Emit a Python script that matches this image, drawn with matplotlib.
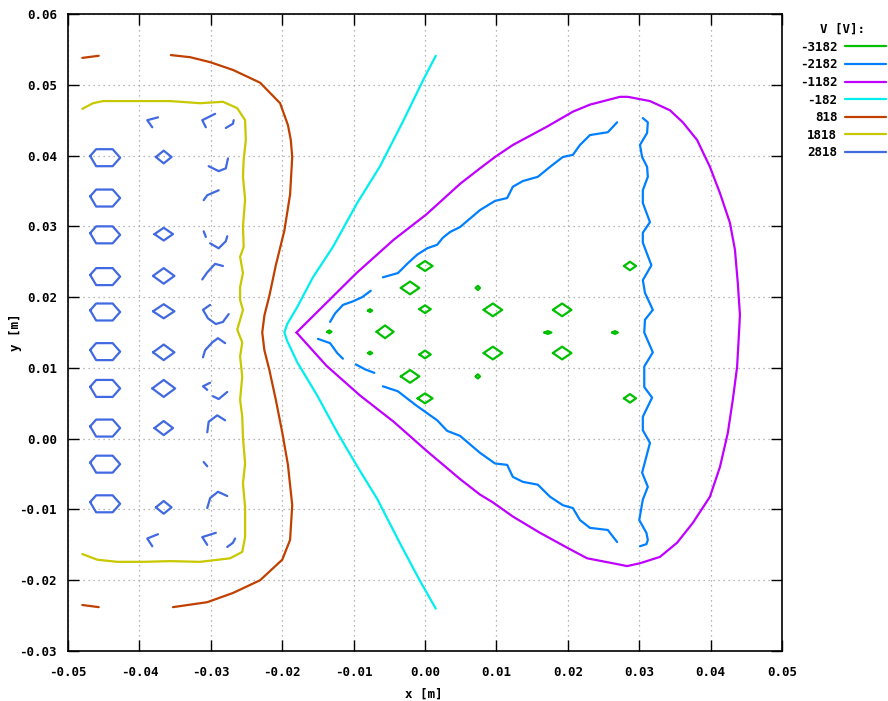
import matplotlib
matplotlib.use("Agg")
import matplotlib.pyplot as plt
from matplotlib.lines import Line2D
import numpy as np

plt.rcParams['font.family'] = ['DejaVu Sans Mono']
plt.rcParams['font.weight'] = 'bold'
plt.rcParams['font.size'] = 9
plt.rcParams['lines.solid_joinstyle'] = 'round'
plt.rcParams['lines.solid_capstyle'] = 'round'

# contour levels and gnuplot classic colours
levels = ['-3182', '-2182', '-1182', '-182', '818', '1818', '2818']
colors = ['#00c000', '#0080ff', '#c000ff', '#00eeee', '#c04000', '#c8c800', '#4169e1']

xticks = [-0.05, -0.04, -0.03, -0.02, -0.01, 0.0, 0.01, 0.02, 0.03, 0.04, 0.05]
xlabels = ['-0.05', '-0.04', '-0.03', '-0.02', '-0.01', '0.00', '0.01', '0.02', '0.03', '0.04', '0.05']
yticks = [-0.03, -0.02, -0.01, 0.0, 0.01, 0.02, 0.03, 0.04, 0.05, 0.06]
ylabels = ['-0.03', '-0.02', '-0.01', '0.00', '0.01', '0.02', '0.03', '0.04', '0.05', '0.06']

# ---- V = 818 ----
v818_x = [-0.0356, -0.0329, -0.0301, -0.0269, -0.0231, -0.0203, -0.0192, -0.0188, -0.0186, -0.0189,
          -0.0197, -0.0209, -0.0218, -0.0225, -0.0228, -0.0225, -0.0218, -0.0209, -0.0200, -0.0192,
          -0.0186, -0.0189, -0.0200, -0.0231, -0.0269, -0.0305, -0.0353]
v818_y = [0.0542, 0.0539, 0.0532, 0.0521, 0.0503, 0.0474, 0.0443, 0.0422, 0.0398, 0.0345,
          0.0294, 0.0245, 0.0202, 0.0174, 0.0150, 0.0125, 0.0097, 0.0055, 0.0009, -0.0037,
          -0.0094, -0.0143, -0.0171, -0.0200, -0.0218, -0.0231, -0.0238]
v818_top_x = [-0.0480, -0.0457]
v818_top_y = [0.0538, 0.0541]
v818_bot_x = [-0.0480, -0.0457]
v818_bot_y = [-0.0235, -0.0238]

# ---- V = 1818 ----
v1818_x = [-0.0480, -0.0465, -0.0451, -0.0399, -0.0357, -0.0315, -0.0283, -0.0263, -0.0252, -0.0251,
           -0.0254, -0.0255, -0.0252, -0.0255, -0.0254, -0.0259, -0.0255, -0.0259, -0.0259, -0.0255,
           -0.0263, -0.0256, -0.0259, -0.0256, -0.0259, -0.0256, -0.0255, -0.0252, -0.0255, -0.0252,
           -0.0252, -0.0256, -0.0273, -0.0315, -0.0357, -0.0395, -0.0431, -0.0459, -0.0480]
v1818_y = [0.0466, 0.0474, 0.0477, 0.0477, 0.0477, 0.0474, 0.0476, 0.0467, 0.0450, 0.0422,
           0.0394, 0.0370, 0.0338, 0.0300, 0.0271, 0.0257, 0.0234, 0.0214, 0.0196, 0.0182,
           0.0154, 0.0136, 0.0116, 0.0088, 0.0055, 0.0031, 0.0002, -0.0035, -0.0063, -0.0097,
           -0.0139, -0.0160, -0.0169, -0.0174, -0.0173, -0.0174, -0.0174, -0.0171, -0.0163]

# ---- V = -182 ----
vm182_x = [0.0015, -0.0003, -0.0031, -0.0063, -0.0095, -0.0129, -0.0157, -0.0179, -0.0193, -0.0197,
           -0.0193, -0.0179, -0.0151, -0.0123, -0.0095, -0.0067, -0.0035, -0.0007, 0.0015]
vm182_y = [0.0541, 0.0506, 0.0448, 0.0385, 0.0333, 0.0271, 0.0228, 0.0186, 0.0162, 0.0150,
           0.0138, 0.0108, 0.0061, 0.0009, -0.0039, -0.0085, -0.0148, -0.0201, -0.0240]

# ---- V = -1182 ----
vm1182_x = [-0.0180, -0.0138, -0.0096, -0.0044, 0.0002, 0.0049, 0.0077, 0.0098, 0.0123, 0.0171,
            0.0207, 0.0231, 0.0273, 0.0284, 0.0315, 0.0343, 0.0361, 0.0381, 0.0399, 0.0413,
            0.0427, 0.0434, 0.0438, 0.0441, 0.0440, 0.0437, 0.0431, 0.0424, 0.0413, 0.0399,
            0.0375, 0.0353, 0.0329, 0.0301, 0.0283, 0.0263, 0.0227, 0.0199, 0.0161, 0.0123,
            0.0095, 0.0077, 0.0049, 0.0002, -0.0044, -0.0091, -0.0138, -0.0180]
vm1182_y = [0.0150, 0.0192, 0.0234, 0.0281, 0.0317, 0.0360, 0.0382, 0.0398, 0.0415, 0.0441,
            0.0462, 0.0472, 0.0483, 0.0483, 0.0477, 0.0464, 0.0447, 0.0422, 0.0384, 0.0347,
            0.0305, 0.0267, 0.0220, 0.0175, 0.0155, 0.0101, 0.0055, 0.0008, -0.0040, -0.0082,
            -0.0119, -0.0147, -0.0167, -0.0176, -0.0180, -0.0176, -0.0169, -0.0154, -0.0133, -0.0110,
            -0.0090, -0.0079, -0.0057, -0.0017, 0.0024, 0.0061, 0.0103, 0.0150]

# ---- V = -2182 ----
vm2182_up_x = [-0.0059, -0.0038, -0.0024, -0.0011, 0.0003, 0.0017, 0.0025, 0.0035, 0.0049, 0.0077,
               0.0098, 0.0115, 0.0123, 0.0137, 0.0158, 0.0175, 0.0193, 0.0207, 0.0217, 0.0231,
               0.0256, 0.0269]
vm2182_up_y = [0.0228, 0.0234, 0.0248, 0.0260, 0.0269, 0.0274, 0.0284, 0.0292, 0.0299, 0.0323,
               0.0336, 0.0340, 0.0356, 0.0364, 0.0370, 0.0384, 0.0398, 0.0401, 0.0415, 0.0429,
               0.0433, 0.0447]
vm2182_lo_x = [-0.0059, -0.0038, -0.0024, -0.0011, 0.0003, 0.0017, 0.0031, 0.0049, 0.0077, 0.0098,
               0.0115, 0.0123, 0.0137, 0.0158, 0.0175, 0.0193, 0.0207, 0.0217, 0.0231, 0.0256,
               0.0269]
vm2182_lo_y = [0.0074, 0.0067, 0.0056, 0.0046, 0.0036, 0.0026, 0.0011, 0.0004, -0.0020, -0.0035,
               -0.0037, -0.0054, -0.0061, -0.0065, -0.0082, -0.0094, -0.0098, -0.0115, -0.0126, -0.0129,
               -0.0146]
vm2182_right_x = [0.0305, 0.0312, 0.0311, 0.0301, 0.0304, 0.0311, 0.0312, 0.0305, 0.0305, 0.0315,
                  0.0305, 0.0305, 0.0317, 0.0305, 0.0308, 0.0319, 0.0308, 0.0307, 0.0319, 0.0307,
                  0.0307, 0.0318, 0.0305, 0.0305, 0.0315, 0.0304, 0.0312, 0.0305, 0.0300, 0.0310,
                  0.0312, 0.0310, 0.0301]
vm2182_right_y = [0.0453, 0.0447, 0.0432, 0.0415, 0.0398, 0.0384, 0.0370, 0.0351, 0.0333, 0.0306,
                  0.0291, 0.0277, 0.0245, 0.0224, 0.0206, 0.0182, 0.0168, 0.0150, 0.0122, 0.0102,
                  0.0073, 0.0058, 0.0031, 0.0012, -0.0006, -0.0048, -0.0068, -0.0086, -0.0115, -0.0133,
                  -0.0143, -0.0149, -0.0152]
vm2182_small = [
    ([-0.0133, -0.0126, -0.0115, -0.0101, -0.0088, -0.0076], [0.0165, 0.0177, 0.0189, 0.0194, 0.0200, 0.0209]),
    ([-0.0150, -0.0133, -0.0123, -0.0115], [0.0141, 0.0135, 0.0121, 0.0113]),
    ([-0.0097, -0.0084, -0.0071], [0.0105, 0.0098, 0.0093]),
]

# ---- V = -3182 : small islands (centre x, centre y, half width, half height) ----
green_x = [0.0000, -0.0021, 0.0074, -0.0077, 0.0000, 0.0095, 0.0192, 0.0287, -0.0134, -0.0056,
           0.0172, 0.0266, -0.0077, 0.0000, 0.0095, 0.0192, -0.0021, 0.0074, 0.0000, 0.0287]
green_y = [0.0244, 0.0213, 0.0213, 0.0181, 0.0183, 0.0182, 0.0182, 0.0244, 0.0151, 0.0151,
           0.0150, 0.0150, 0.0121, 0.0119, 0.0121, 0.0121, 0.0088, 0.0088, 0.0057, 0.0057]
green_w = [0.00105, 0.0013, 0.0003, 0.0003, 0.0008, 0.0013, 0.0013, 0.00085, 0.0003, 0.0012,
           0.0005, 0.0004, 0.0003, 0.0008, 0.0013, 0.0013, 0.0013, 0.0003, 0.00105, 0.00085]
green_h = [0.0007, 0.0009, 0.0003, 0.0002, 0.00055, 0.0009, 0.0009, 0.0006, 0.0002, 0.0009,
           0.0002, 0.0002, 0.0002, 0.00055, 0.0009, 0.0009, 0.0009, 0.0003, 0.0007, 0.0006]

# ---- V = 2818 : islands and broken arcs on the left ----
col1_x = -0.0448
col1_y = [0.0397, 0.0340, 0.0288, 0.0229, 0.0179, 0.0123, 0.0071, 0.0015, -0.0036, -0.0092]
col1_w, col1_h = 0.0021, 0.0012
col2_x = -0.0366
col2_y = [0.0398, 0.0289, 0.0230, 0.0180, 0.0122, 0.0071, 0.0015, -0.0097]
col2_w = [0.0011, 0.0013, 0.0015, 0.0015, 0.0015, 0.0016, 0.0013, 0.0011]
col2_h = [0.0009, 0.0009, 0.0011, 0.0010, 0.0011, 0.0012, 0.0010, 0.0009]
v2818_arcs = [
    ([-0.0374, -0.0389, -0.0382], [0.0454, 0.0450, 0.0440]),
    ([-0.0374, -0.0389, -0.0382], [-0.0135, -0.0141, -0.0152]),
    ([-0.0294, -0.0312, -0.0307], [0.0459, 0.0450, 0.0440]),
    ([-0.0279, -0.0269, -0.0268], [0.0439, 0.0445, 0.0450]),
    ([-0.0276, -0.0279, -0.0289, -0.0303], [0.0396, 0.0382, 0.0378, 0.0385]),
    ([-0.0289, -0.0305, -0.0310], [0.0351, 0.0344, 0.0337]),
    ([-0.0310, -0.0307], [0.0293, 0.0285]),
    ([-0.0301, -0.0289, -0.0279, -0.0277], [0.0276, 0.0269, 0.0279, 0.0286]),
    ([-0.0283, -0.0294, -0.0305, -0.0312], [0.0244, 0.0247, 0.0235, 0.0225]),
    ([-0.0301, -0.0311, -0.0304, -0.0293, -0.0283, -0.0275], [0.0189, 0.0182, 0.0170, 0.0162, 0.0165, 0.0176]),
    ([-0.0311, -0.0308, -0.0298, -0.0290, -0.0280], [0.0115, 0.0125, 0.0136, 0.0142, 0.0135]),
    ([-0.0301, -0.0311, -0.0305], [0.0079, 0.0074, 0.0069]),
    ([-0.0297, -0.0289, -0.0277], [0.0060, 0.0056, 0.0066]),
    ([-0.0305, -0.0303, -0.0291, -0.0280], [0.0009, 0.0024, 0.0033, 0.0026]),
    ([-0.0310, -0.0305], [-0.0033, -0.0039]),
    ([-0.0305, -0.0301, -0.0290, -0.0277], [-0.0098, -0.0084, -0.0075, -0.0081]),
    ([-0.0293, -0.0312, -0.0305], [-0.0133, -0.0139, -0.0150]),
    ([-0.0277, -0.0269, -0.0266], [-0.0153, -0.0147, -0.0141]),
]


def diamond(cx, cy, w, h):
    return [cx - w, cx, cx + w, cx, cx - w], [cy, cy + h, cy, cy - h, cy]


def hexagon(cx, cy, w, h):
    xs = [cx - w, cx - 0.6 * w, cx + 0.5 * w, cx + w, cx + 0.5 * w, cx - 0.6 * w, cx - w]
    ys = [cy + 0.2 * h, cy + h, cy + h, cy, cy - h, cy - h, cy + 0.2 * h]
    return xs, ys


fig = plt.figure(figsize=(8.88, 7.01), dpi=100)
ax = fig.add_axes([0.0766, 0.0713, 0.8041, 0.9087])
lw = 1.6

# green
for cx, cy, w, h in zip(green_x, green_y, green_w, green_h):
    xs, ys = diamond(cx, cy, w, h)
    ax.plot(xs, ys, color=colors[0], lw=lw)
# blue
ax.plot(vm2182_up_x, vm2182_up_y, color=colors[1], lw=lw)
ax.plot(vm2182_lo_x, vm2182_lo_y, color=colors[1], lw=lw)
ax.plot(vm2182_right_x, vm2182_right_y, color=colors[1], lw=lw)
for xs, ys in vm2182_small:
    ax.plot(xs, ys, color=colors[1], lw=lw)
# purple, cyan
ax.plot(vm1182_x, vm1182_y, color=colors[2], lw=lw)
ax.plot(vm182_x, vm182_y, color=colors[3], lw=lw)
# orange
ax.plot(v818_x, v818_y, color=colors[4], lw=lw)
ax.plot(v818_top_x, v818_top_y, color=colors[4], lw=lw)
ax.plot(v818_bot_x, v818_bot_y, color=colors[4], lw=lw)
# yellow
ax.plot(v1818_x, v1818_y, color=colors[5], lw=lw)
# royal blue
for cy in col1_y:
    xs, ys = hexagon(col1_x, cy, col1_w, col1_h)
    ax.plot(xs, ys, color=colors[6], lw=lw)
for cy, w, h in zip(col2_y, col2_w, col2_h):
    xs, ys = diamond(col2_x, cy, w, h)
    ax.plot(xs, ys, color=colors[6], lw=lw)
for xs, ys in v2818_arcs:
    ax.plot(xs, ys, color=colors[6], lw=lw)

ax.set_xlim(-0.05, 0.05)
ax.set_ylim(-0.03, 0.06)
ax.set_xticks(xticks)
ax.set_xticklabels(xlabels)
ax.set_yticks(yticks)
ax.set_yticklabels(ylabels)
ax.tick_params(direction='in', length=8, width=1, top=True, right=True, labelsize=9)
ax.tick_params(axis='x', pad=11)
ax.tick_params(axis='y', pad=8)
ax.grid(True, color='#a0a0a0', linestyle=(0, (1, 3)), lw=0.9)
ax.set_axisbelow(True)
for s in ax.spines.values():
    s.set_linewidth(1.2)

ax.set_xlabel('x [m]', fontsize=9, fontweight='bold')
ax.xaxis.set_label_coords(0.4986, -0.058)
ax.set_ylabel('y [m]', fontsize=9, fontweight='bold')
ax.yaxis.set_label_coords(-0.0644, 0.5008)

handles = [Line2D([], [], color=c, lw=lw) for c in colors]
leg = ax.legend(handles, levels, title='V [V]:', loc='upper right',
                bbox_to_anchor=(886 / 888, 1 - 23 / 701), bbox_transform=fig.transFigure,
                markerfirst=False, frameon=False, handlelength=3.3, handletextpad=0.6,
                labelspacing=0.37, borderpad=0, borderaxespad=0, fontsize=9,
                title_fontsize=9)
leg.get_title().set_fontweight('bold')

plt.savefig("out.png", dpi=100)
